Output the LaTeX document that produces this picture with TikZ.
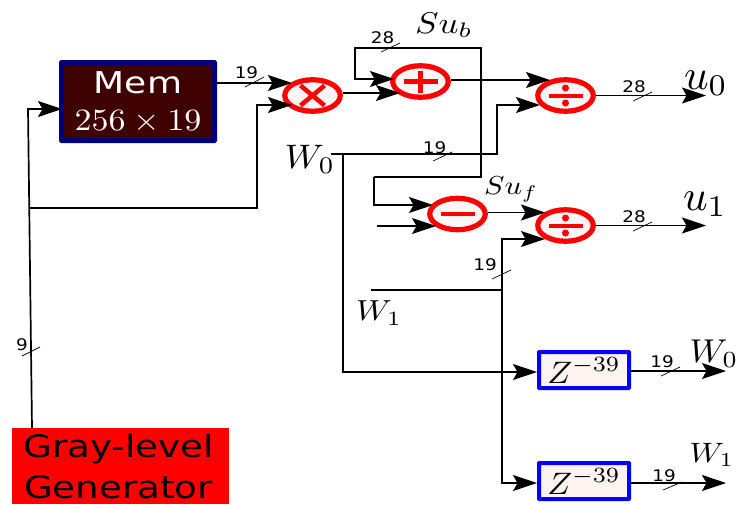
\documentclass[tikz,border=0pt]{standalone}
\usepackage{fontspec}
\newfontfamily\djv{DejaVu Sans}
\usetikzlibrary{arrows.meta,shapes.geometric,calc}
\definecolor{memfill}{HTML}{3F0000}
\definecolor{memline}{HTML}{00007F}
\definecolor{opfill}{HTML}{FBF5F5}
\definecolor{zfill}{HTML}{FDF3F0}
\newcommand{\widetxt}[2]{{\djv\fontsize{#1}{#1}\selectfont\scalebox{1.2}[1]{#2}}}
\newcommand{\numlab}[1]{{\djv\fontsize{16}{16}\selectfont\scalebox{1.15}[1]{#1}}}
\newcommand{\sigmath}[3]{\scalebox{#1}[#2]{$#3$}}
\tikzset{
  wire/.style={line width=1.7pt,black},
  arrowwire/.style={wire,-{Stealth[length=24pt,width=16pt,inset=4.5pt]}},
  opnode/.style={ellipse,draw=red,fill=opfill,line width=5.2pt,minimum width=55.5pt,minimum height=31.5pt,inner sep=0pt},
  opsym/.style={draw=red,line width=4.5pt},
  zbox/.style={rectangle,draw=blue,fill=zfill,line width=4pt,minimum width=90pt,minimum height=36pt,inner sep=0pt,rounded corners=0.5pt},
  slash/.style={line width=0.7pt,black},
  numtext/.style={inner sep=0pt,black},
  mathtext/.style={inner sep=0pt,black}
}
\begin{document}
\begin{tikzpicture}[x=1pt,y=-1pt]
\useasboundingbox (0,0) rectangle (743,504);
% blocks
\node[rectangle,draw=memline,fill=memfill,line width=5pt,minimum width=153pt,minimum height=78pt,inner sep=0pt,rounded corners=0.5pt] (mem) at (138,101.5) {};
\node[text=white,inner sep=0pt] (memt) at (138,83) {\widetxt{30}{Mem}};
\node[text=white,inner sep=0pt] (mems) at (138,121.5) {\sigmath{3.4}{3.1}{256\times 19}};
\node[rectangle,fill=red,minimum width=217pt,minimum height=76pt,inner sep=0pt] (gray) at (120.5,466) {};
\node[inner sep=0pt] (gray1) at (118.5,449) {\widetxt{31}{Gray-level}};
\node[inner sep=0pt] (gray2) at (118.5,487.5) {\widetxt{31}{Generator}};
\node[opnode] (mul) at (312.5,95.5) {};
\node[opnode] (add) at (420.5,81.5) {};
\node[opnode] (sub) at (457.5,214) {};
\node[opnode] (dv0) at (565.5,95.5) {};
\node[opnode] (dv1) at (565.5,225.5) {};
\node[zbox] (z0) at (584,370) {};
\node[zbox] (z1) at (584,481) {};
\node[mathtext] at ($(z0)+(0,0.5)$) {\sigmath{3.3}{3.1}{Z^{-39}}};
\node[mathtext] at ($(z1)+(0,0.5)$) {\sigmath{3.3}{3.1}{Z^{-39}}};
% operator symbols
\draw[opsym] ($(mul)+(-12,-10)$) -- ($(mul)+(12,10)$) ($(mul)+(12,-10)$) -- ($(mul)+(-12,10)$);
\draw[opsym] ($(add)+(-17,0)$) -- ($(add)+(17,0)$) ($(add)+(0,-11)$) -- ($(add)+(0,11)$);
\draw[opsym] ($(sub)+(-17,0)$) -- ($(sub)+(17,0)$);
\foreach \d in {dv0,dv1}{
  \draw[opsym,line width=4pt] ($(\d)+(-17,0)$) -- ($(\d)+(17,0)$);
  \fill[red] ($(\d)+(0,-7.5)$) circle (3.5pt) ($(\d)+(0,7.5)$) circle (3.5pt);
}
% named routing points
\coordinate (memin) at (62,109);
\coordinate (fbtop) at (28,109);
\coordinate (fbjoin) at (30,208);
\coordinate (grayout) at (32,428);
\coordinate (mulin1) at (292,83);
\coordinate (mulin2) at (292,105);
\coordinate (mulout) at (343,93);
\coordinate (addin1) at (394,79);
\coordinate (addin2) at (400,93);
\coordinate (addout) at (451,80);
\coordinate (dv0in1) at (550,80);
\coordinate (dv0in2) at (540,105);
\coordinate (w0start) at (331,154);
\coordinate (w0join) at (343,154);
\coordinate (subin1) at (433,205);
\coordinate (subin2) at (436,226);
\coordinate (subsrc) at (377,226);
\coordinate (subout) at (488,212.5);
\coordinate (dv1in1) at (545,212.5);
\coordinate (dv1in2) at (545,239);
\coordinate (w1start) at (371,290);
\coordinate (w1join) at (502,290);
\coordinate (u0end) at (706,95.5);
\coordinate (u1end) at (706,225.5);
\coordinate (w0end) at (726,371);
\coordinate (w1end) at (726,483);
% connectors
\draw[arrowwire] (grayout) -- (fbtop) -- (memin);
\draw[arrowwire] (fbjoin) -| (257,105) -- (mulin2);
\draw[arrowwire] (mem.east |- mulin1) -- (mulin1);
\draw[arrowwire] (mulout) -- (addin2);
\draw[arrowwire] (addout) -- (dv0in1);
\draw[arrowwire] (dv0.east) -- (u0end);
\draw[arrowwire] (dv1.east) -- (u1end);
\draw[arrowwire] (374,177) -- (481,177) -- (481,48) -- (355,48) -- (355,79) -- (addin1);
\draw[arrowwire] (374,177) -- (374,205) -- (subin1);
\draw[arrowwire] (w0start) -- (497,154) -- (497,105) -- (dv0in2);
\draw[arrowwire] (w0join) -- (343,372) -- (z0.west |- 0,372);
\draw[arrowwire] (subsrc) -- (subin2);
\draw[arrowwire] (subout) -- (dv1in1);
\draw[wire] (w1start) -- (w1join);
\draw[arrowwire] (w1join) -- (502,239) -- (dv1in2);
\draw[arrowwire] (w1join) -- (502,483) -- (z1.west |- 0,483);
\draw[arrowwire] (z0.east |- w0end) -- (w0end);
\draw[arrowwire] (z1.east |- w1end) -- (w1end);
% bus slashes
\draw[slash] (245,87) -- (264,77);
\draw[slash] (381,52) -- (400,43);
\draw[slash] (433,161) -- (452,152);
\draw[slash] (633,101) -- (652,92);
\draw[slash] (633,231) -- (652,222);
\draw[slash] (492,279) -- (511,270);
\draw[slash] (22,356) -- (40,347);
\draw[slash] (661,376) -- (680,367);
\draw[slash] (663,490) -- (682,482);
% bus widths
\node[numtext] at (246.5,73) {\numlab{19}};
\node[numtext] at (382.5,38) {\numlab{28}};
\node[numtext] at (434.5,147.5) {\numlab{19}};
\node[numtext] at (634,87) {\numlab{28}};
\node[numtext] at (634,217) {\numlab{28}};
\node[numtext] at (485,265) {\numlab{19}};
\node[numtext] at (22,345) {\numlab{9}};
\node[numtext] at (662,361.5) {\numlab{19}};
\node[numtext] at (664,476) {\numlab{19}};
% signal labels
\node[mathtext] at (444,25) {\sigmath{3.5}{3}{Su_b}};
\node[mathtext] at (511,189) {\sigmath{3.05}{2.6}{Su_f}};
\node[mathtext] at (706,83) {\sigmath{4.3}{4.3}{u_0}};
\node[mathtext] at (705,204) {\sigmath{4.3}{4.3}{u_1}};
\node[mathtext] at (310,159) {\sigmath{3.6}{3.4}{W_0}};
\node[mathtext] at (379,313) {\sigmath{3.3}{2.9}{W_1}};
\node[mathtext] at (714,354) {\sigmath{3.5}{3.3}{W_0}};
\node[mathtext] at (712,455) {\sigmath{3.2}{2.8}{W_1}};
\end{tikzpicture}
\end{document}
